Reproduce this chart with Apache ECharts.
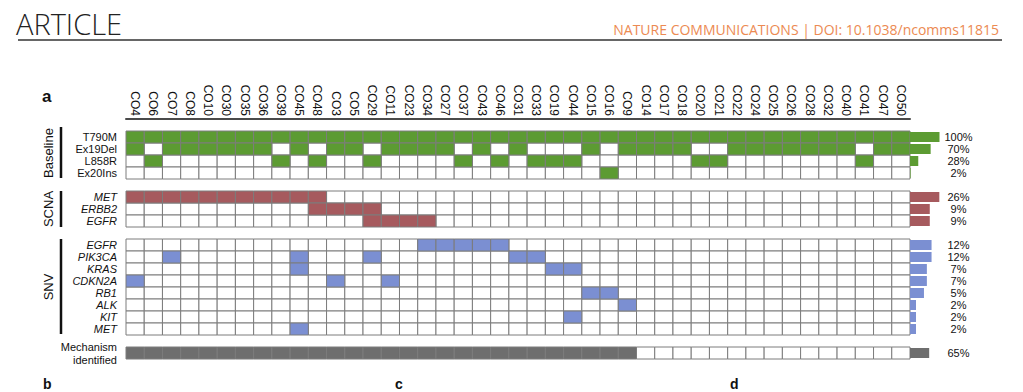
<!DOCTYPE html>
<html>
<head>
<meta charset="utf-8">
<script src="https://cdn.jsdelivr.net/npm/echarts@6/dist/echarts.min.js"></script>
<style>
html,body{margin:0;padding:0;background:#fff;}
#c{width:1023px;height:392px;}
</style>
</head>
<body>
<div id="c"></div>
<script>
// ---------- DATA ----------
const samples = ['CO4','CO6','CO7','CO8','CO10','CO30','CO35','CO36','CO39','CO45','CO48','CO3','CO5','CO29','CO11','CO23','CO34','CO27','CO37','CO43','CO46','CO31','CO33','CO19','CO44','CO15','CO16','CO9','CO14','CO17','CO18','CO20','CO21','CO22','CO24','CO25','CO26','CO28','CO32','CO40','CO41','CO47','CO50'];

const baselineNames = ['T790M','Ex19Del','L858R','Ex20Ins'];
const T790M   = [1,1,1,1,1,1,1,1,1,1, 1,1,1,1,1,1,1,1,1,1, 1,1,1,1,1,1,1,1,1,1, 1,1,1,1,1,1,1,1,1,1, 1,1,1];
const Ex19Del = [1,0,1,1,1,1,1,1,0,1, 0,1,1,0,1,1,1,1,0,1, 0,1,0,0,0,1,0,1,1,1, 1,0,0,1,1,1,1,1,1,1, 0,1,1];
const L858R   = [0,1,0,0,0,0,0,0,1,0, 1,0,0,1,0,0,0,0,1,0, 1,0,1,1,1,0,0,0,0,0, 0,1,1,0,0,0,0,0,0,0, 1,0,0];
const Ex20Ins = [0,0,0,0,0,0,0,0,0,0, 0,0,0,0,0,0,0,0,0,0, 0,0,0,0,0,0,1,0,0,0, 0,0,0,0,0,0,0,0,0,0, 0,0,0];

const scnaNames = ['MET','ERBB2','EGFR'];
const MET_cn   = [1,1,1,1,1,1,1,1,1,1, 1,0,0,0,0,0,0,0,0,0, 0,0,0,0,0,0,0,0,0,0, 0,0,0,0,0,0,0,0,0,0, 0,0,0];
const ERBB2_cn = [0,0,0,0,0,0,0,0,0,0, 1,1,1,1,0,0,0,0,0,0, 0,0,0,0,0,0,0,0,0,0, 0,0,0,0,0,0,0,0,0,0, 0,0,0];
const EGFR_cn  = [0,0,0,0,0,0,0,0,0,0, 0,0,0,1,1,1,1,0,0,0, 0,0,0,0,0,0,0,0,0,0, 0,0,0,0,0,0,0,0,0,0, 0,0,0];

const snvNames = ['EGFR','PIK3CA','KRAS','CDKN2A','RB1','ALK','KIT','MET'];
const EGFR_snv   = [0,0,0,0,0,0,0,0,0,0, 0,0,0,0,0,0,1,1,1,1, 1,0,0,0,0,0,0,0,0,0, 0,0,0,0,0,0,0,0,0,0, 0,0,0];
const PIK3CA_snv = [0,0,1,0,0,0,0,0,0,1, 0,0,0,1,0,0,0,0,0,0, 0,1,1,0,0,0,0,0,0,0, 0,0,0,0,0,0,0,0,0,0, 0,0,0];
const KRAS_snv   = [0,0,0,0,0,0,0,0,0,1, 0,0,0,0,0,0,0,0,0,0, 0,0,0,1,1,0,0,0,0,0, 0,0,0,0,0,0,0,0,0,0, 0,0,0];
const CDKN2A_snv = [1,0,0,0,0,0,0,0,0,0, 0,1,0,0,1,0,0,0,0,0, 0,0,0,0,0,0,0,0,0,0, 0,0,0,0,0,0,0,0,0,0, 0,0,0];
const RB1_snv    = [0,0,0,0,0,0,0,0,0,0, 0,0,0,0,0,0,0,0,0,0, 0,0,0,0,0,1,1,0,0,0, 0,0,0,0,0,0,0,0,0,0, 0,0,0];
const ALK_snv    = [0,0,0,0,0,0,0,0,0,0, 0,0,0,0,0,0,0,0,0,0, 0,0,0,0,0,0,0,1,0,0, 0,0,0,0,0,0,0,0,0,0, 0,0,0];
const KIT_snv    = [0,0,0,0,0,0,0,0,0,0, 0,0,0,0,0,0,0,0,0,0, 0,0,0,0,1,0,0,0,0,0, 0,0,0,0,0,0,0,0,0,0, 0,0,0];
const MET_snv    = [0,0,0,0,0,0,0,0,0,1, 0,0,0,0,0,0,0,0,0,0, 0,0,0,0,0,0,0,0,0,0, 0,0,0,0,0,0,0,0,0,0, 0,0,0];

const mechanism = [1,1,1,1,1,1,1,1,1,1, 1,1,1,1,1,1,1,1,1,1, 1,1,1,1,1,1,1,1,0,0, 0,0,0,0,0,0,0,0,0,0, 0,0,0];

const baselinePct = [100,70,28,2];
const scnaPct = [26,9,9];
const snvPct = [12,12,7,7,5,2,2,2];
const mechPct = [65];

// ---------- STYLE ----------
const COL = {baseline:'#5c9b32', scna:'#a65a5e', snv:'#7b8fd2', mech:'#6e6e6e'};
const FONT = '"Liberation Sans", Arial, sans-serif';

// ---------- ROW LAYOUT ----------
const rows = [];
const baseVals = [T790M, Ex19Del, L858R, Ex20Ins];
baselineNames.forEach((n,i)=>rows.push({key:'b_'+n,label:n,italic:false,group:'baseline',vals:baseVals[i],pct:baselinePct[i]}));
rows.push({key:'gap1',label:'',gap:true});
const scnaVals = [MET_cn, ERBB2_cn, EGFR_cn];
scnaNames.forEach((n,i)=>rows.push({key:'c_'+n,label:n,italic:true,group:'scna',vals:scnaVals[i],pct:scnaPct[i]}));
rows.push({key:'gap2',label:'',gap:true});
const snvVals = [EGFR_snv, PIK3CA_snv, KRAS_snv, CDKN2A_snv, RB1_snv, ALK_snv, KIT_snv, MET_snv];
snvNames.forEach((n,i)=>rows.push({key:'s_'+n,label:n,italic:true,group:'snv',vals:snvVals[i],pct:snvPct[i]}));
rows.push({key:'gap3',label:'',gap:true});
rows.push({key:'mech',label:'Mechanism\nidentified',italic:false,group:'mech',vals:mechanism,pct:mechPct[0]});

const rowKeys = rows.map(r=>r.key);
const groupIdx = {baseline:1, scna:2, snv:3, mech:4};
const palette = ['#ffffff', COL.baseline, COL.scna, COL.snv, COL.mech];

const cellData = [];
rows.forEach((r,ri)=>{
  if (r.gap) return;
  r.vals.forEach((v,ci)=>{ cellData.push([ci, ri, v ? groupIdx[r.group] : 0]); });
});
cellData.sort((a,b)=> (a[2]>0) - (b[2]>0));

function barsFor(groups){
  return rows.map(r => (r.gap || groups.indexOf(r.group) < 0) ? '-' :
    {value: r.pct, itemStyle:{color: palette[groupIdx[r.group]]}});
}

const GRID_TOP = 131, ROW_H = 12, GRID_H = ROW_H * rows.length;
const BAR_LEFT = 910, BAR_W = 29.5;

const hiddenCat = (gi)=>({gridIndex:gi, type:'category', data:rowKeys, inverse:true, show:false});

const chart = echarts.init(document.getElementById('c'), null, {renderer:'svg'});
chart.setOption({
  animation:false,
  backgroundColor:'#fff',
  grid:[
    {left:126, top:GRID_TOP, width:784, height:GRID_H},
    {left:BAR_LEFT, top:GRID_TOP, width:BAR_W, height:GRID_H},
    {left:BAR_LEFT, top:GRID_TOP, width:BAR_W, height:GRID_H},
    {left:BAR_LEFT, top:GRID_TOP, width:BAR_W, height:GRID_H}
  ],
  xAxis:[
    {gridIndex:0, type:'category', data:samples, position:'top', offset:12,
     axisLine:{show:true, lineStyle:{color:'#4a4a4a', width:2}},
     axisTick:{show:false}, splitLine:{show:false},
     axisLabel:{rotate:90, interval:0, fontSize:12, margin:3, color:'#111', fontFamily:FONT}},
    {gridIndex:1, type:'value', min:0, max:100, show:false},
    {gridIndex:2, type:'log', min:1, max:26.5, show:false},
    {gridIndex:3, type:'log', min:1, max:30, show:false}
  ],
  yAxis:[
    {gridIndex:0, type:'category', data:rowKeys, inverse:true,
     axisLine:{show:false}, axisTick:{show:false}, splitLine:{show:false},
     axisLabel:{interval:0, margin:9, color:'#111',
       formatter:(v,i)=>{ const r=rows[i]; if(!r||r.gap) return '';
         if (r.italic) return '{it|'+r.label+'}';
         return r.label.split('\n').map(s=>'{n|'+s+'}').join('\n'); },
       rich:{ it:{fontStyle:'italic', fontSize:11, fontFamily:FONT, color:'#111', align:'right', lineHeight:12},
              n:{fontSize:11, fontFamily:FONT, color:'#111', align:'right', lineHeight:13} }}},
    {gridIndex:1, type:'category', data:rowKeys, inverse:true, position:'right',
     axisLine:{show:false}, axisTick:{show:false}, splitLine:{show:false},
     axisLabel:{interval:0, margin:19, align:'center', fontSize:11, color:'#111', fontFamily:FONT,
       formatter:(v,i)=>{ const r=rows[i]; return (!r||r.gap)?'':(r.pct+'%'); }}},
    hiddenCat(2),
    hiddenCat(3)
  ],
  series:[
    {type:'custom', xAxisIndex:0, yAxisIndex:0, data:cellData,
     encode:{x:0, y:1},
     renderItem:(params, api)=>{
       const c = api.coord([api.value(0), api.value(1)]);
       const s = api.size([1,1]);
       return {type:'rect',
         shape:{x:c[0]-s[0]/2, y:c[1]-s[1]/2, width:s[0], height:s[1]},
         style:{fill: palette[api.value(2)], stroke:'#7c7c7c', lineWidth:1}};
     }},
    {type:'bar', xAxisIndex:1, yAxisIndex:1, data:barsFor(['baseline','mech']), barWidth:10, silent:true},
    {type:'bar', xAxisIndex:2, yAxisIndex:2, data:barsFor(['scna']), barWidth:10, silent:true},
    {type:'bar', xAxisIndex:3, yAxisIndex:3, data:barsFor(['snv']), barWidth:10, silent:true}
  ],
  graphic:[
    {type:'text', left:16, top:9, style:{text:'ARTICLE', fontSize:29, fontWeight:300, fontFamily:'"Open Sans", sans-serif', fill:'#222'}},
    {type:'line', shape:{x1:18, y1:40, x2:1002, y2:40}, style:{stroke:'#666', lineWidth:2}},
    {type:'text', x:999, y:29, style:{text:'NATURE COMMUNICATIONS | DOI: 10.1038/ncomms11815', fontSize:14, fontFamily:'"Open Sans", sans-serif', fill:'#ec8a52', textAlign:'right', textVerticalAlign:'middle'}},
    {type:'text', x:42, y:96, style:{text:'a', fontSize:17, fontWeight:'bold', fontFamily:FONT, fill:'#111', textVerticalAlign:'middle'}},
    {type:'text', x:48, y:153, rotation:Math.PI/2, style:{text:'Baseline', fontSize:13, fontFamily:FONT, fill:'#111', textAlign:'center', textVerticalAlign:'middle'}},
    {type:'text', x:48, y:209, rotation:Math.PI/2, style:{text:'SCNA', fontSize:13, fontFamily:FONT, fill:'#111', textAlign:'center', textVerticalAlign:'middle'}},
    {type:'text', x:48, y:287, rotation:Math.PI/2, style:{text:'SNV', fontSize:13, fontFamily:FONT, fill:'#111', textAlign:'center', textVerticalAlign:'middle'}},
    {type:'line', shape:{x1:61, y1:127, x2:61, y2:178}, style:{stroke:'#111', lineWidth:2.5}},
    {type:'line', shape:{x1:61, y1:191, x2:61, y2:227}, style:{stroke:'#111', lineWidth:2.5}},
    {type:'line', shape:{x1:61, y1:239, x2:61, y2:334}, style:{stroke:'#111', lineWidth:2.5}},
    {type:'text', x:43, y:391, style:{text:'b', fontSize:14, fontWeight:'bold', fontFamily:FONT, fill:'#111', textVerticalAlign:'bottom'}},
    {type:'text', x:395, y:391, style:{text:'c', fontSize:14, fontWeight:'bold', fontFamily:FONT, fill:'#111', textVerticalAlign:'bottom'}},
    {type:'text', x:730, y:391, style:{text:'d', fontSize:14, fontWeight:'bold', fontFamily:FONT, fill:'#111', textVerticalAlign:'bottom'}}
  ]
});
</script>
</body>
</html>
